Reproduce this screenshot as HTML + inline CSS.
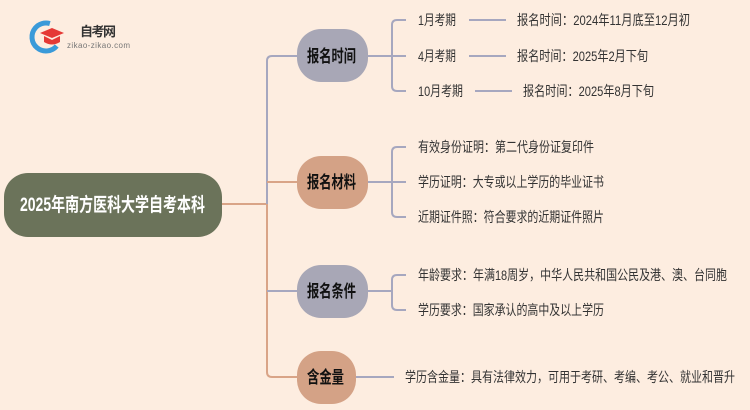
<!DOCTYPE html>
<html><head><meta charset="utf-8"><style>
html,body{margin:0;padding:0;background:#fdede0;}
svg{display:block}
</style></head><body>
<svg width="750" height="410" viewBox="0 0 750 410" xmlns="http://www.w3.org/2000/svg" font-family="'Liberation Sans','Noto Sans CJK SC',sans-serif">
<rect width="750" height="410" fill="#fdede0"/>
<!-- logo -->
<circle cx="46" cy="37" r="14" fill="none" stroke="#3a9ad9" stroke-width="5" stroke-dasharray="60 30" transform="rotate(40 46 37)"/>
<path d="M40 33 L52 28 L64 33 L52 38 Z" fill="#e53935"/>
<path d="M44 36 L44 42 Q52 47 60 42 L60 36 L52 40 Z" fill="#e53935"/>
<text x="80" y="36" font-size="13" font-weight="bold" fill="#333" textLength="36">自考网</text>
<text x="67" y="48" font-size="8" fill="#777" textLength="63">zikao-zikao.com</text>
<!-- connectors -->
<g fill="none" stroke-width="2">
<path d="M222 204 H267" stroke="#d9a487"/>
<path d="M297 56 H272 Q267 56 267 61 V204" stroke="#a6a7bf"/>
<path d="M267 204 V372 Q267 377 272 377 H297" stroke="#d9a487"/>
<path d="M267 182 H297" stroke="#d9a487"/>
<path d="M267 291 H297" stroke="#a6a7bf"/>
<g stroke="#a6a7bf">
<path d="M368 56 H392"/>
<path d="M406 20 H397 Q392 20 392 25 V86 Q392 91 397 91 H406"/>
<path d="M392 56 H406"/>
<path d="M469 20 H506 M469 56 H506 M475 91 H512"/>
<path d="M368 182 H392"/>
<path d="M406 147 H397 Q392 147 392 152 V212 Q392 217 397 217 H406"/>
<path d="M392 182 H406"/>
<path d="M368 291 H392"/>
<path d="M406 275 H397 Q392 275 392 280 V305 Q392 310 397 310 H406"/>
<path d="M356 377 H394"/>
</g>
</g>
<!-- root -->
<rect x="4" y="173" width="218" height="64" rx="24" fill="#6b735a"/>
<text x="20" y="211" font-size="19" font-weight="bold" fill="#fff" textLength="185" lengthAdjust="spacingAndGlyphs">2025年南方医科大学自考本科</text>
<!-- branches -->
<rect x="297" y="29" width="71" height="53" rx="24" fill="#a8a7b6"/>
<text x="307" y="62" font-size="17" font-weight="bold" fill="#111" textLength="49" lengthAdjust="spacingAndGlyphs">报名时间</text>
<rect x="297" y="156" width="71" height="53" rx="24" fill="#d4a286"/>
<text x="307" y="188" font-size="17" font-weight="bold" fill="#111" textLength="49" lengthAdjust="spacingAndGlyphs">报名材料</text>
<rect x="297" y="265" width="71" height="53" rx="24" fill="#a8a7b6"/>
<text x="307" y="297" font-size="17" font-weight="bold" fill="#111" textLength="49" lengthAdjust="spacingAndGlyphs">报名条件</text>
<rect x="297" y="351" width="59" height="53" rx="24" fill="#d4a286"/>
<text x="307" y="383" font-size="17" font-weight="bold" fill="#111" textLength="37" lengthAdjust="spacingAndGlyphs">含金量</text>
<!-- leaves -->
<g font-size="14" fill="#333" lengthAdjust="spacingAndGlyphs">
<text x="418" y="25" textLength="38" lengthAdjust="spacingAndGlyphs">1月考期</text>
<text x="517" y="25" textLength="173" lengthAdjust="spacingAndGlyphs">报名时间：2024年11月底至12月初</text>
<text x="418" y="61" textLength="38" lengthAdjust="spacingAndGlyphs">4月考期</text>
<text x="517" y="61" textLength="131" lengthAdjust="spacingAndGlyphs">报名时间：2025年2月下旬</text>
<text x="418" y="96" textLength="45" lengthAdjust="spacingAndGlyphs">10月考期</text>
<text x="523" y="96" textLength="131" lengthAdjust="spacingAndGlyphs">报名时间：2025年8月下旬</text>
<text x="418" y="152" textLength="176" lengthAdjust="spacingAndGlyphs">有效身份证明：第二代身份证复印件</text>
<text x="418" y="187" textLength="186" lengthAdjust="spacingAndGlyphs">学历证明：大专或以上学历的毕业证书</text>
<text x="418" y="222" textLength="186" lengthAdjust="spacingAndGlyphs">近期证件照：符合要求的近期证件照片</text>
<text x="418" y="280" textLength="309" lengthAdjust="spacingAndGlyphs">年龄要求：年满18周岁，中华人民共和国公民及港、澳、台同胞</text>
<text x="418" y="315" textLength="186" lengthAdjust="spacingAndGlyphs">学历要求：国家承认的高中及以上学历</text>
<text x="405" y="382" textLength="330" lengthAdjust="spacingAndGlyphs">学历含金量：具有法律效力，可用于考研、考编、考公、就业和晋升</text>
</g>
</svg>
</body></html>
